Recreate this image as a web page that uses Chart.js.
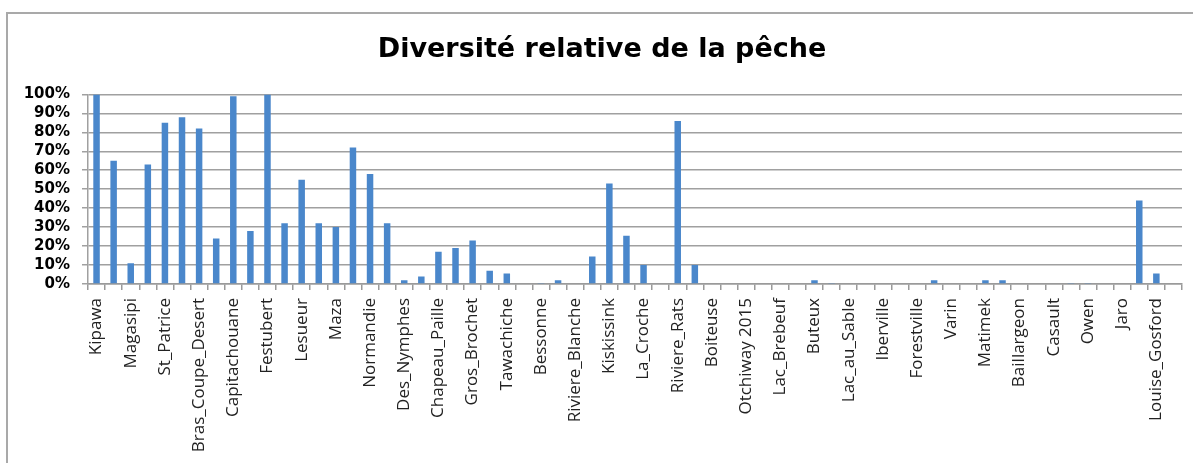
<!DOCTYPE html>
<html>
<head>
<meta charset="utf-8">
<script src="https://cdn.jsdelivr.net/npm/chart.js@4/dist/chart.umd.min.js"></script>
<style>
    body { margin: 0; background: #fff; }
    #cadre { position: absolute; left: 6px; top: 12px; width: 1300px; height: 600px;
             border-left: 2px solid #a9a9a9; border-top: 2px solid #a9a9a9; }
    #boite { position: absolute; left: 0; top: 0; width: 1193px; height: 463px; }
</style>
</head>
<body>
<div id="cadre"></div>
<div id="boite"><canvas id="graficoPeche"></canvas></div>
<script>
// noms des lacs (un sur deux seulement est lisible sur l'image)
const lacs = [
    'Kipawa', '', 'Magasipi', '', 'St_Patrice', '', 'Bras_Coupe_Desert', '',
    'Capitachouane', '', 'Festubert', '', 'Lesueur', '', 'Maza', '',
    'Normandie', '', 'Des_Nymphes', '', 'Chapeau_Paille', '', 'Gros_Brochet', '',
    'Tawachiche', '', 'Bessonne', '', 'Riviere_Blanche', '', 'Kiskissink', '',
    'La_Croche', '', 'Riviere_Rats', '', 'Boiteuse', '', 'Otchiway 2015', '',
    'Lac_Brebeuf', '', 'Buteux', '', 'Lac_au_Sable', '', 'Iberville', '',
    'Forestville', '', 'Varin', '', 'Matimek', '', 'Baillargeon', '',
    'Casault', '', 'Owen', '', 'Jaro', '', 'Louise_Gosford', ''
];

// diversité relative en %
const diversite = [
    100, 65, 11, 63, 85, 88, 82, 24,
    99, 28, 100, 32, 55, 32, 30, 72,
    58, 32, 2, 4, 17, 19, 23, 7,
    5.5, 0, 0.5, 2, 0, 14.5, 53, 25.5,
    10, 0, 86, 10, 0, 0, 0, 0,
    0, 0, 2, 0.5, 0, 0, 0, 0,
    0, 2, 0, 0, 2, 2, 0, 0,
    0, 0.5, 0.5, 0, 0, 44, 5.5, 0
];

const ticksY = [0, 10, 20, 30, 40, 50, 60, 70, 80, 90, 100];

const ctxPeche = document.getElementById('graficoPeche').getContext('2d');
const graficoPeche = new Chart(ctxPeche, {
    type: 'bar',
    data: {
        labels: lacs,
        datasets: [
            {
                label: 'Diversité',
                data: diversite,
                backgroundColor: '#4a87cb',
                borderWidth: 0,
                categoryPercentage: 1,
                barPercentage: 0.38
            }
        ]
    },
    options: {
        responsive: true,
        maintainAspectRatio: false,
        animation: false,
        layout: { padding: { left: 22, right: 11, top: 0, bottom: 0 } },
        plugins: {
            legend: { display: false },
            tooltip: { enabled: false },
            title: {
                display: true,
                text: 'Diversité relative de la pêche',
                color: '#000',
                font: { family: 'DejaVu Sans', size: 27, weight: 'bold' },
                padding: { top: 34, bottom: 28 }
            }
        },
        scales: {
            x: {
                afterFit: (s) => {
                    s.height = 179;
                    s.paddingLeft = 0;
                    s.paddingRight = 0;
                },
                grid: {
                    offset: true,
                    drawOnChartArea: false,
                    drawTicks: true,
                    tickLength: 6,
                    color: '#9a9a9a',
                    lineWidth: 1.5
                },
                border: { display: true, color: '#9a9a9a', width: 1.5 },
                ticks: {
                    autoSkip: false,
                    minRotation: 90,
                    maxRotation: 90,
                    padding: 8,
                    color: '#222',
                    font: { family: 'Open Sans', size: 17 }
                }
            },
            y: {
                min: 0,
                max: 100,
                afterFit: (s) => { s.width = 66; },
                afterBuildTicks: (s) => { s.ticks = ticksY.map(v => ({ value: v })); },
                grid: {
                    color: '#a0a0a0',
                    lineWidth: 1.5,
                    tickLength: 6
                },
                border: { display: true, color: '#a0a0a0', width: 1.5 },
                ticks: {
                    autoSkip: false,
                    padding: 12,
                    color: '#000',
                    font: { family: 'DejaVu Sans', size: 15, weight: 'bold' },
                    callback: (v) => v + '%'
                }
            }
        }
    }
});
</script>
</body>
</html>
